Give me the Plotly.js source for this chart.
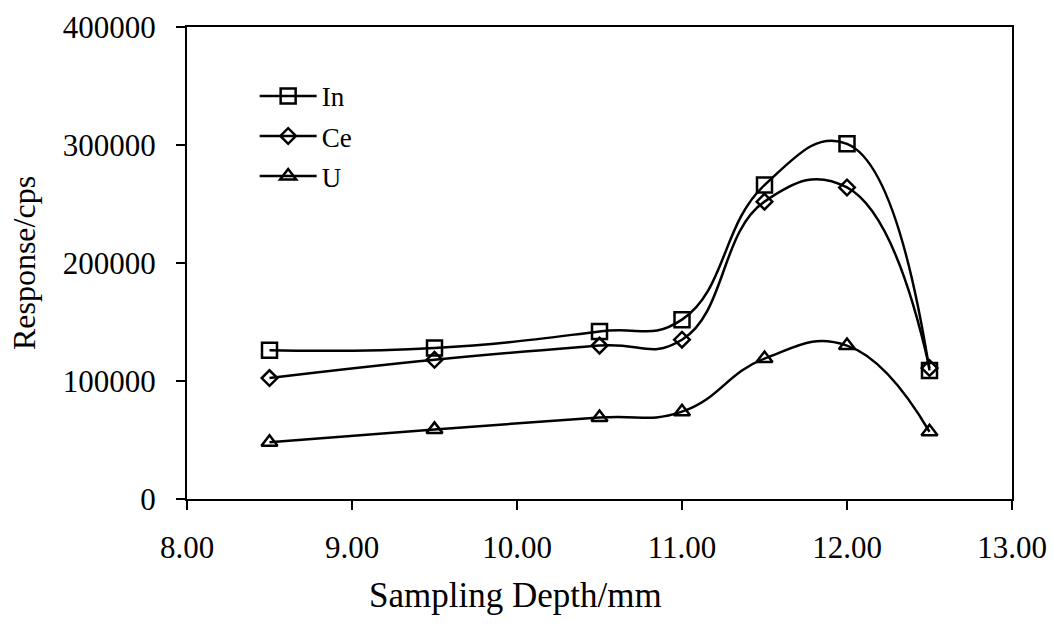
<!DOCTYPE html>
<html><head><meta charset="utf-8">
<script src="https://cdn.plot.ly/plotly-3.0.1.min.js"></script>
<style>body{margin:0;background:#fff}#c{width:1053px;height:625px}</style>
</head><body><div id="c"></div>
<script>
const depth = [8.5, 9.5, 10.5, 11.0, 11.5, 12.0, 12.5];
const inVals = [126000, 128000, 142000, 152000, 266000, 301000, 109000];
const ceVals = [102500, 118000, 130000, 135000, 252000, 264000, 111000];
const uVals  = [48000, 59000, 69000, 74000, 119000, 130000, 57000];
const names = ['In', 'Ce', 'U'];
const xTitle = 'Sampling Depth/mm';
const yTitle = 'Response/cps';
const symbols = ['square-open', 'diamond-open', 'triangle-up-open'];
const sizes = [15, 12, 14];
const series = [inVals, ceVals, uVals];

const traces = series.map((v, i) => ({
  x: depth, y: v, name: names[i], legendgroup: names[i], type: 'scatter', mode: 'lines+markers',
  line: {shape: 'spline', smoothing: 1.3, color: '#000', width: 2.5},
  marker: {symbol: symbols[i], size: sizes[i], color: '#000', line: {width: 2.5, color: '#000'}}
}));

const fam = '"Liberation Serif", "Times New Roman", serif';
const tickFont = {family: fam, size: 31, color: '#000'};
const layout = {
  width: 1053, height: 625,
  margin: {l: 187, r: 41, t: 27, b: 126},
  paper_bgcolor: '#fff', plot_bgcolor: '#fff',
  font: {family: fam, size: 29, color: '#000'},
  showlegend: true,
  legend: {x: 0.082, y: 0.905, xanchor: 'left', yanchor: 'top', bgcolor: 'rgba(0,0,0,0)',
           font: {family: fam, size: 27, color: '#000'}, tracegroupgap: 2, itemwidth: 57},
  xaxis: {range: [8, 13], dtick: 1, tick0: 8, tickformat: '.2f', showgrid: false, zeroline: false,
          showline: true, linecolor: '#000', linewidth: 2, mirror: true,
          ticks: 'outside', ticklen: 9, tickcolor: '#000', tickwidth: 1.5,
          tickfont: tickFont, ticklabelstandoff: 11},
  yaxis: {range: [0, 400000], dtick: 100000, showgrid: false, zeroline: false,
          showline: true, linecolor: '#000', linewidth: 2, mirror: true,
          ticks: 'outside', ticklen: 9, tickcolor: '#000', tickwidth: 1.5,
          tickformat: 'd', tickfont: tickFont, ticklabelstandoff: 14,
          title: {text: yTitle, font: {family: fam, size: 32, color: '#000'}, standoff: 18}},
  annotations: [{text: xTitle, xref: 'paper', yref: 'paper', x: 0.3976, y: -0.2034,
                 xanchor: 'center', yanchor: 'middle', showarrow: false,
                 font: {family: fam, size: 35, color: '#000'}}]
};
Plotly.newPlot('c', traces, layout, {staticPlot: true});
</script></body></html>
